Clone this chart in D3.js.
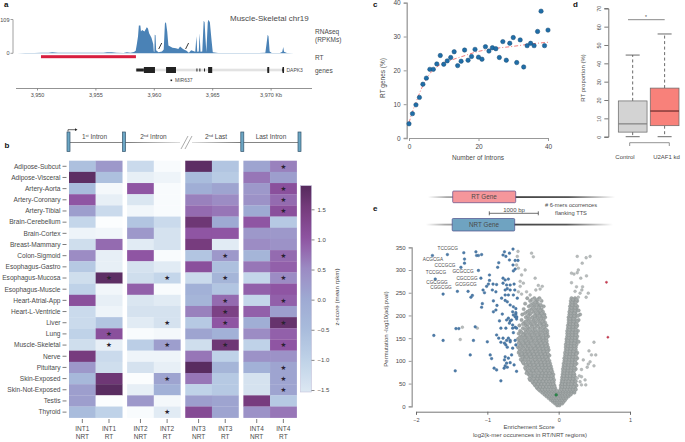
<!DOCTYPE html>
<html><head><meta charset="utf-8">
<script src="https://cdn.jsdelivr.net/npm/d3@7"></script>
<style>html,body{margin:0;padding:0;background:#fff}svg{display:block}text{font-family:"Liberation Sans",Arial,sans-serif;fill:#4a4a4a}</style>
</head><body><svg id="c" width="685" height="442"></svg>
<script>
// ---- panel a
const trackKb=[3948.3,3949,3949.8,3950.4,3951,3951.3,3951.8,3952.5,3953,3953.6,3954.2,3955,3955.7,3956,3956.4,3956.8,3957.4,3957.7,3958,3958.3,3958.45,3958.55,3958.65,3958.72,3958.85,3958.9,3959,3959.2,3959.4,3959.5,3959.6,3959.8,3959.95,3960,3960.05,3960.08,3960.15,3960.2,3960.4,3960.7,3960.85,3960.95,3961,3961.05,3961.15,3961.25,3961.6,3961.9,3962.1,3962.25,3962.5,3962.8,3963,3963.2,3963.55,3963.65,3963.72,3963.85,3963.92,3964,3964.15,3964.27,3964.35,3964.42,3964.5,3964.62,3964.68,3964.8,3964.95,3965.05,3965.5,3966,3967,3968,3969,3969.55,3969.65,3969.75,3969.82,3969.92,3970.1,3970.8,3971,3971.08,3971.15,3971.4,3972,3973];
const trackVal=[.5,1,1,1.5,2,3,2,1.5,2,1.5,1.5,1.5,2,3,3,1.5,1,3,2,4,8,30,55,90,90,70,75,70,84,80,65,50,30,6,4,60,58,10,3,6,12,95,100,98,70,25,18,16,14,22,14,8,2,10,5,55,5,6,65,5,6,105,100,50,4,100,108,100,40,3,1,1,1,1,1,2,30,60,55,6,1,1,5,20,5,1,.5,.5];
const kbTicks=[3950,3955,3960,3965,3970];
const rtRegion=[3950.34,3958.47];
const geneSpan=[3958.45,3971.2];
const exonThin=[[3958.5,3959.15],[3963.65,3963.7],[3963.9,3963.95],[3964.3,3964.36],[3969.75,3969.85],[3971.0,3971.1]];
const exonThick=[[3959.15,3960.1],[3961.05,3961.9],[3964.65,3965.0],[3969.72,3969.88],[3971.02,3971.12]];

// ---- panel b
const tissues=["Adipose-Subcut","Adipose-Visceral","Artery-Aorta","Artery-Coronary","Artery-Tibial","Brain-Cerebellum","Brain-Cortex","Breast-Mammary","Colon-Sigmoid","Esophagus-Gastro","Esophagus-Mucosa","Esophagus-Muscle","Heart-Atrial-App","Heart-L-Ventricle","Liver","Lung","Muscle-Skeletal","Nerve","Pituitary","Skin-Exposed","Skin-Not-Exposed","Testis","Thyroid"];
const introns=["INT1","INT2","INT3","INT4"];
const classes=["NRT","RT"];
const heat=[
[-.6,.3,-1.2,-1.95,1.8,-.7,.1,.6],
[1.8,-.6,-1.7,-1.8,-.5,-.85,.7,.2],
[-.5,-1.9,1,-1.95,-.1,.1,.3,1.1],
[1,-1.7,-1.5,-1.95,.6,.5,.4,.8],
[.2,-1.2,-1.85,-1.95,.8,.7,0,1.1],
[-1.1,-2,-.7,-1.2,1.6,0,1,-.8],
[-1.8,-1.85,.3,-1.4,1,1,.3,.3],
[-1.3,.8,-1.6,-1.4,1.5,-1.6,.5,.4],
[.5,-1.7,1,-1.95,-.7,.3,-.3,.8],
[-.8,-1.7,-1.4,-1.6,1.1,-.6,.7,.9],
[-1.3,1.8,-1.3,-1.1,-1.2,-.3,-1.1,.5],
[-1,-1.85,.9,-1.95,-.2,-.7,.9,1],
[1.1,-1.7,-1.5,-1.6,-.3,.8,-1.1,.9],
[-1.2,-1.8,-1.4,-1.4,.6,1.4,.9,.2],
[-1.2,-.7,-1.6,-1.4,-.8,1,-.1,1.7],
[-1,1.1,-1.95,-1.9,.1,-.2,.5,.9],
[-1.3,-1.7,-.9,.2,-1.3,1.6,-1,1],
[1.5,-1.2,-1.8,-1.8,.7,-1,.4,.4],
[.3,-1.3,-1.4,-1.7,1.85,-.3,-.2,.1],
[-.4,1.6,-2,.1,.7,-.8,-1.4,.1],
[.2,1.85,-1.7,-.2,-1,-.8,-1.4,.1],
[.2,-2,.3,-1.9,.2,.1,1.5,-.8],
[-.5,-1,-1.95,-1.6,1.2,.1,.4,.7]];
const starCells=[[0,7],[2,7],[3,7],[4,7],[8,5],[8,7],[10,1],[10,3],[10,5],[10,7],[12,5],[12,7],[13,5],[14,3],[14,5],[14,7],[15,1],[16,1],[16,3],[16,5],[16,7],[18,7],[19,3],[19,7],[20,7],[22,3]];
const heatStops=[-2,-1.5,-1,-.5,0,.5,1,1.5,1.9];
const heatColors=["#fbfdfe","#dae6f1","#bfd2e8","#a9bcdc","#9eaad3","#9c8cc4","#8f55a3","#773c7e","#552a5c"];
const cbarTicks=[-1.5,-1,-.5,0,.5,1,1.5];
const intronLabels=[["1","st"," Intron"],["2","nd"," Intron"],["2","nd"," Last"],["Last Intron","",""]];

// ---- panel c
const intronCount=d3.range(41);
const rtGenes=[4.2,7.2,9.8,12,15.9,17.7,20.3,20.3,21.9,24.4,21.8,22.8,23.8,25.5,21.4,22.7,26,23,24.1,26.2,23.9,23.3,27,25.7,26.7,26.4,23.8,28.5,23,28,29.7,22.3,29,21,27.3,28,27.3,31.5,37.5,27.3,31.9];
const trendX=[0,1,2,3,4,6,8,10,12,15,20,25,30,35,40];
const trendY=[4.5,7.8,10.5,13.2,15.5,19,21,22.3,23,24,25.6,26.5,27.1,27.8,28.3];

// ---- panel d
const boxNames=["Control","U2AF1 kd"];
const boxLow=[0,0],boxQ1=[2.5,6],boxMed=[7,14],boxQ3=[19.5,26.5],boxHigh=[44.5,56];
const boxFill=["#d3d3d3","#f8817a"],boxMedColor=["#808080","#6b2b2b"];

// ---- panel e
const volcBlue=[[-1.77,332],[-1.56,334],[-1.33,338],[-1.32,324],[-1.32,315],[-1.37,306],[-1.16,340],[-1.15,332],[-1.08,334],[-1.125,332],[-.84,316],[-.855,306],[-.76,340],[-.64,346],[-.78,333],[-.74,330],[-.69,337],[-.69,322],[-.61,321],[-.57,321],[-.64,311],[-.61,302],[-.635,298],[-1.125,299],[-1.09,282],[-.97,289],[-.97,277],[-1.73,280],[-1.62,247],[-1.42,253],[-1.27,253],[-1.21,244],[-1.23,240],[-1.06,256],[-1.04,250],[-1.01,264],[-.985,269],[-.92,269],[-.87,268],[-.93,256],[-.88,252],[-.78,282],[-.75,278],[-.705,280],[-.78,271],[-.73,267],[-.68,267],[-.625,269],[-.75,256],[-.72,259],[-.68,256],[-.615,256],[-.75,245],[-.705,245],[-.635,245],[-.58,238],[-.8,238],[-.75,233],[-.72,230],[-.915,232],[-.865,222],[-.88,212],[-.915,208],[-.79,203],[-1.07,226],[-1.08,218],[-.68,223],[-.635,219],[-.6,215],[-.645,208],[-.6,203],[-.59,197],[-.705,194],[-.59,192],[-.635,201],[-.6,206],[-.61,197],[-.59,196],[-.66,190],[-.68,188],[-.83,188],[-.73,190],[-.69,183],[-.645,179],[-.61,174],[-.59,172],[-1.17,175],[-1.44,171],[-1.4,171],[-.81,172],[-.74,172],[-.645,172],[-.635,162],[-.87,157],[-.84,150],[-1.75,156],[-.78,150],[-.705,150],[-1.62,145],[-1.195,145],[-1,142],[-.73,145],[-.68,145],[-.61,145],[-.81,141],[-.76,139],[-.74,135],[-.72,130],[-.68,142],[-.6,135],[-.645,128],[-1.24,113],[-.96,113],[-.94,105],[-.66,113],[-.75,109],[-.76,102],[-.705,106],[-.73,95],[-.75,89],[-.68,96],[-.625,91],[-.72,86],[-.765,84],[-.905,84],[-.87,80],[-.59,77],[-1.45,78],[-.81,56]];
const volcGreyOut=[[-.57,341],[-.58,330],[-.38,337],[-.355,329],[-.59,311],[-.565,304],[-.47,300],[-.33,282],[-.52,289],[-.54,275],[-.495,271],[-.54,264],[-.285,266],[-.23,264],[-.26,258],[-.32,256],[-.45,252],[-.565,252],[-.52,247],[-.4,245],[-.26,234],[-.355,234],[.26,330],[.33,315],[.385,327],[.44,330],[.275,300],[.26,294],[.18,293],[.215,291],[.39,287],[.31,282],[.18,272],[.335,263],[.325,256],[.415,249],[.385,240],[.25,263],[.23,253],[.3,249],[.275,240],[.495,141],[.425,122],[.52,113],[.46,113],[.345,102],[.44,98],[.415,93],[.495,89],[.4,86],[.32,81],[.29,67],[.32,65],[.26,62],[.37,58],[.3,54],[.32,47],[.38,47],[-1.35,174],[-1.14,172],[-1.38,147]];
const volcGreyRows=[
[2,-.02,.01],[6,-.05,-.02,.02,.05],[10,-.08,-.05,-.02,.01,.04,.07],[14,-.11,-.08,-.05,-.02,.02,.05,.09],
[18,-.14,-.1,-.07,-.03,0,.04,.07,.11],[22,-.17,-.13,-.09,-.06,-.02,.03,.06,.1,.14],[26,-.2,-.16,-.12,-.08,-.05,-.01,.02,.05,.09,.13,.17],
[30,-.23,-.18,-.14,-.1,-.06,-.03,.01,.03,.06,.1,.14,.18,.22],[34,-.26,-.21,-.17,-.13,-.09,-.05,-.02,.02,.06,.1,.14,.18,.22],
[40,-.3,-.25,-.2,-.16,-.12,-.08,-.05,.03,.06,.1,.14,.18,.23],[46,-.33,-.28,-.23,-.19,-.14,-.1,-.06,.03,.07,.11,.15,.2,.25],
[52,-.36,-.31,-.26,-.21,-.16,-.12,-.07,.04,.08,.12,.16,.21],[58,-.4,-.34,-.29,-.24,-.19,-.14,-.09,-.065,.045,.09,.13,.18,.22],
[64,-.38,-.32,-.27,-.22,-.17,-.12,-.08,.05,.09,.14,.18,.23],[70,-.42,-.36,-.3,-.25,-.2,-.15,-.1,-.075,.055,.1,.14,.19,.22],
[76,-.44,-.38,-.33,-.27,-.22,-.17,-.12,-.09,.06,.1,.15,.19],[82,-.46,-.4,-.35,-.3,-.24,-.19,-.14,-.1,.06,.11,.15,.2,.24],
[88,-.43,-.37,-.32,-.26,-.21,-.16,-.11,.07,.11,.16,.2],[94,-.49,-.44,-.38,-.33,-.27,-.22,-.17,-.12,.07,.12,.16,.21,.25],
[100,-.51,-.45,-.4,-.34,-.29,-.24,-.18,-.13,.08,.12,.17,.21],[106,-.48,-.42,-.36,-.31,-.25,-.2,-.15,.08,.13,.17,.22,.26],
[112,-.54,-.49,-.43,-.37,-.32,-.27,-.21,-.16,-.13,.09,.13,.18,.22],[118,-.56,-.5,-.45,-.39,-.33,-.28,-.22,-.17,.09,.14,.18,.23,.26],
[124,-.53,-.47,-.41,-.35,-.3,-.24,-.19,-.14,.1,.14,.19,.24],[130,-.57,-.5,-.43,-.37,-.31,-.25,-.2,-.15,.1,.15,.19,.24],
[136,-.52,-.46,-.4,-.33,-.27,-.21,-.16,.1,.15,.2,.25],[142,-.55,-.48,-.42,-.36,-.29,-.23,-.17,.11,.15,.2,.24,.28],
[148,-.57,-.5,-.44,-.37,-.3,-.24,-.18,.11,.16,.21,.25],[154,-.53,-.46,-.39,-.32,-.26,-.19,-.15,.12,.16,.21,.26],
[160,-.56,-.48,-.41,-.34,-.27,-.2,-.16,.12,.17,.22,.25],[166,-.54,-.44,-.36,-.29,-.22,-.16,.12,.17,.22,.27],
[172,-.5,-.42,-.34,-.26,-.2,.13,.18,.22],[178,-.55,-.46,-.38,-.31,-.23,-.17,.13,.17,.22,.26],
[184,-.48,-.4,-.33,-.25,-.19,.14,.18,.23],[190,-.52,-.43,-.35,-.28,-.21,.14,.19,.23,.28],
[196,-.46,-.37,-.3,-.24,-.19,.14,.18,.23],[202,-.51,-.41,-.32,-.26,-.2,.15,.2,.24,.3],
[208,-.44,-.35,-.28,-.22,.15,.19,.24],[214,-.49,-.38,-.31,-.24,.16,.2,.25],
[220,-.42,-.34,-.27,-.21,.16,.21,.26],[226,-.47,-.36,-.29,.17,.22],[232,-.4,-.31,-.24,.17,.21,.26],[238,-.44,-.34,-.27,.18,.23],
[37,-.28,-.23,-.19,-.15,-.11,-.07,.04,.08,.12,.16,.2,.24],[43,-.31,-.26,-.22,-.17,-.13,-.09,-.06,.05,.09,.13,.17,.21],
[49,-.34,-.29,-.24,-.2,-.15,-.11,-.08,.05,.09,.14,.18,.23],[55,-.37,-.32,-.27,-.22,-.17,-.13,-.09,.06,.1,.14,.19,.24],
[61,-.41,-.35,-.3,-.25,-.2,-.15,-.11,.07,.11,.16,.2],[67,-.4,-.34,-.29,-.24,-.19,-.14,-.1,.07,.12,.16,.21],
[73,-.45,-.39,-.35,-.28,-.23,-.18,-.13,.08,.12,.17,.21],[79,-.42,-.36,-.31,-.25,-.2,-.15,-.11,.08,.13,.17,.22],
[85,-.47,-.41,-.34,-.28,-.23,-.18,-.13,.09,.13,.18,.22],[91,-.46,-.4,-.35,-.29,-.24,-.19,-.14,.09,.14,.18,.23],
[97,-.5,-.42,-.36,-.31,-.25,-.2,-.15,.1,.14,.19,.23],[103,-.53,-.47,-.39,-.33,-.27,-.22,-.16,.1,.15,.19,.24],
[109,-.51,-.45,-.39,-.34,-.28,-.23,-.18,.11,.15,.2,.24],[115,-.52,-.47,-.41,-.35,-.3,-.25,-.19,-.15,.11,.16,.2,.25],
[121,-.55,-.48,-.43,-.37,-.32,-.26,-.21,-.16,.12,.16,.21],[127,-.55,-.49,-.44,-.39,-.33,-.27,-.22,-.17,.12,.17,.22],
[133,-.54,-.47,-.42,-.35,-.29,-.23,-.18,.13,.17,.22],[139,-.56,-.5,-.44,-.38,-.31,-.25,-.19,.13,.18,.22],
[145,-.53,-.46,-.39,-.33,-.27,-.21,-.17,.13,.18,.23],[151,-.55,-.48,-.41,-.35,-.28,-.22,-.17,.14,.19,.23],
[157,-.5,-.44,-.37,-.3,-.24,-.18,.14,.19,.24],[163,-.52,-.46,-.39,-.32,-.25,-.19,.14,.19,.24],
[169,-.47,-.4,-.33,-.25,-.18,.15,.2,.24],[175,-.44,-.37,-.29,-.21,.15,.2,.25],
[181,-.5,-.43,-.35,-.27,-.21,.16,.2,.25],[187,-.46,-.38,-.3,-.23,.16,.21,.26],
[193,-.41,-.33,-.25,.16,.21],[199,-.43,-.34,-.27,-.21,.17,.22,.27],
[205,-.47,-.39,-.3,-.24,.17,.22],[211,-.41,-.33,-.26,.18,.23,.28],
[217,-.36,-.28,.18,.23],[223,-.39,-.31,-.25,.19,.24],[229,-.33,.19,.24],[235,-.37,-.29,.2,.25]];
const volcRed=[[.67,273],[.69,152]];
const volcGreen=[[-.035,25]];
const kmerLabels=[["TCCGCG",447.7,250],["ACGCGA",433,261],["CCCGCG",445,267],["TCCGCG",436,274],["GCGCCG",463,273],["CGCCGG",467,280],["CGCGGG",437,284],["GCGGCG",466,286],["CGGCGG",441,289]];

const svg=d3.select("#c");
const defs=svg.append("defs");
function T(x,y,s,o={}){const t=svg.append("text").attr("x",x).attr("y",y).text(s)
 .attr("font-size",o.size||6.5).attr("text-anchor",o.anchor||"start");
 if(o.weight)t.attr("font-weight",o.weight); if(o.fill)t.style("fill",o.fill);
 if(o.rot!=null)t.attr("transform",`rotate(${o.rot} ${x} ${y})`); return t;}
function L(x1,y1,x2,y2,c,w,d){const l=svg.append("line").attr("x1",x1).attr("y1",y1).attr("x2",x2).attr("y2",y2).attr("stroke",c).attr("stroke-width",w||1);if(d)l.attr("stroke-dasharray",d);return l;}
function styleAxis(g,c,w,fs){g.selectAll("path.domain").attr("stroke",c).attr("stroke-width",w);g.selectAll(".tick line").attr("stroke",c).attr("stroke-width",w>1?1:w);g.selectAll("text").attr("font-size",fs).attr("font-family",'"Liberation Sans",Arial,sans-serif').style("fill","#4a4a4a");return g;}
[["a",4,7],["b",4.5,148],["c",373,7],["d",573,7],["e",373,211]].forEach(p=>T(p[1],p[2],p[0],{size:8,weight:"bold",fill:"#111"}));

// ===== panel a
const kb=d3.scaleLinear().domain([3950,3970]).range([37,270.6]);
const rp=d3.scaleLinear().domain([0,109]).range([53.3,19.5]);
svg.append("path").attr("d",d3.area().x((d,i)=>kb(trackKb[i])).y0(rp(0)).y1((d,i)=>rp(d))(trackVal)).attr("fill","#4a82b6");
L(13,rp(109),13,rp(0),"#888",.8);L(10.5,rp(109),13,rp(109),"#888",.8);L(10.5,rp(0),13,rp(0),"#888",.8);
T(9.5,rp(109)+2,"109",{size:5.5,anchor:"end"});T(9.5,rp(0)+2,"0",{size:5.5,anchor:"end"});
[[3960.55],[3962.85]].forEach(d=>L(kb(d[0])-1.5,49,kb(d[0])+1.5,43,"#222",.9));
T(230,21,"Muscle-Skeletal chr19",{size:8});
T(315,34,"RNAseq",{size:6.5});T(315,42,"(RPKMs)",{size:6.5});T(315,60,"RT",{size:6.5});T(315,72.5,"genes",{size:6.5});
svg.append("rect").attr("x",kb(rtRegion[0])).attr("width",kb(rtRegion[1])-kb(rtRegion[0])).attr("y",55.2).attr("height",3).attr("fill","#d81e3f");
svg.append("rect").attr("x",kb(geneSpan[0])).attr("width",kb(geneSpan[1])-kb(geneSpan[0])).attr("y",68.7).attr("height",2.6).attr("fill","#e2e2e2");
svg.selectAll(".thin").data(exonThin).join("rect").attr("x",d=>kb(d[0])).attr("width",d=>Math.max(1,kb(d[1])-kb(d[0]))).attr("y",68.5).attr("height",3).attr("fill","#222");
svg.selectAll(".thick").data(exonThick).join("rect").attr("x",d=>kb(d[0])).attr("width",d=>Math.max(1.5,kb(d[1])-kb(d[0]))).attr("y",67).attr("height",6).attr("fill","#222");
T(286.5,72,"DAPK3",{size:5});
svg.append("rect").attr("x",kb(3961.5)-.8).attr("y",79.5).attr("width",1.6).attr("height",1.6).attr("fill","#222");
T(175,82.3,"MIR637",{size:5});
const ga=svg.append("g").attr("transform","translate(0,88.5)").call(d3.axisBottom(kb).tickValues(kbTicks).tickSize(2).tickFormat(d=>d3.format(",")(d)+(d===3970?" Kb":"")));
ga.select("path.domain").attr("d","M16,0H312");
styleAxis(ga,"#777",.8,5.5);

// ===== panel b
const gx=d3.scaleBand().domain(introns).range([69,296.7]).paddingInner(.0826);
const cx=d3.scaleBand().domain(classes).range([0,gx.bandwidth()]);
const ry=d3.scaleBand().domain(tissues).range([160.7,417.7]);
const col=d3.scaleLinear().domain(heatStops).range(heatColors).clamp(true);
const colX=j=>gx(introns[Math.floor(j/2)])+cx(classes[j%2]);
heat.forEach((r,i)=>r.forEach((v,j)=>{
 svg.append("rect").attr("x",colX(j)).attr("y",ry(tissues[i])).attr("width",cx.bandwidth()+.2).attr("height",ry.bandwidth()+.2).attr("fill",col(v));
}));
starCells.forEach(([i,j])=>{svg.append("text").attr("x",colX(j)+cx.bandwidth()/2).attr("y",ry(tissues[i])+ry.bandwidth()/2+2.3).attr("text-anchor","middle").attr("font-size",6.5).style("font-family","DejaVu Sans").style("fill","#2a2230").text("★");});
tissues.forEach(t=>{const y=ry(t)+ry.bandwidth()/2;L(62.5,y,66.5,y,"#444",.7);T(60.5,y+2.3,t,{anchor:"end",size:6.6});});
introns.forEach((g,gi)=>classes.forEach(c=>{const x=gx(g)+cx(c)+cx.bandwidth()/2;L(x,419,x,423,"#444",.7);T(x,431,g,{anchor:"middle",size:6.5});T(x,439,c,{anchor:"middle",size:6.5});}));
// intron schematic
const fade=defs.append("linearGradient").attr("id","fadeR");fade.append("stop").attr("offset",0).attr("stop-color","#777");fade.append("stop").attr("offset",1).attr("stop-color","#ddd");
const fade2=defs.append("linearGradient").attr("id","fadeL");fade2.append("stop").attr("offset",0).attr("stop-color","#ddd");fade2.append("stop").attr("offset",1).attr("stop-color","#777");
L(69,142.5,125,142.5,"#777",.9);
svg.append("rect").attr("x",125).attr("y",142).attr("width",55).attr("height",1).attr("fill","url(#fadeR)");
svg.append("rect").attr("x",192).attr("y",142).attr("width",50).attr("height",1).attr("fill","url(#fadeL)");
L(242,142.5,300,142.5,"#777",.9);
L(181,149,188,136,"#888",.7);L(185,149,192,136,"#888",.7);
[67,122.5,240.8,298].forEach(x=>svg.append("rect").attr("x",x).attr("y",132).attr("width",3).attr("height",19.5).attr("fill","#6ba6c4").attr("stroke","#34536b").attr("stroke-width",.7));
svg.append("path").attr("d","M68,131.5V129.7H75").attr("fill","none").attr("stroke","#222").attr("stroke-width",.7);
svg.append("path").attr("d","M75,128.3L77.5,129.7L75,131.1Z").attr("fill","#222");
[[94.5],[153.5],[216],[271]].forEach((d,i)=>{const il=intronLabels[i];const t=svg.append("text").attr("x",d[0]).attr("y",139).attr("text-anchor","middle").attr("font-size",6.5);
 t.append("tspan").text(il[0]);if(il[1]){t.append("tspan").text(il[1]).attr("font-size",4).attr("dy",-2);t.append("tspan").text(il[2]).attr("dy",2);}});
// colorbar
const cby=d3.scaleLinear().domain([-1.5,1.5]).range([390,209.3]);
const cbg=defs.append("linearGradient").attr("id","cb").attr("x1",0).attr("x2",0).attr("y1",1).attr("y2",0);
const cbLo=cby.invert(392),cbHi=cby.invert(185.7);
d3.range(0,21).forEach(i=>{const v=cbLo+(cbHi-cbLo)*i/20;cbg.append("stop").attr("offset",i/20).attr("stop-color",col(v));});
svg.append("rect").attr("x",300.5).attr("y",185.7).attr("width",11).attr("height",206.3).attr("fill","url(#cb)").attr("stroke","#bdb9d6").attr("stroke-width",.5);
const gcb=svg.append("g").attr("transform","translate(311.5,0)").call(d3.axisRight(cby).tickValues(cbarTicks).tickSize(3).tickFormat(d3.format(".1f")));
gcb.select("path.domain").remove();styleAxis(gcb,"#555",.7,6);
gcb.selectAll("text").text(d=>(d<0?"\u2212":"")+Math.abs(d).toFixed(1));
T(339,297,"z-score (mean rpkm)",{size:6.2,anchor:"middle",rot:-90});

// ===== panel c
const cX=d3.scaleLinear().domain([0,40]).range([409,548]);
const cY=d3.scaleLinear().domain([0,40]).range([138,2.7]);
const gcx=svg.append("g").attr("transform","translate(0,138)").call(d3.axisBottom(cX).tickValues([0,20,40]).tickSize(3));
styleAxis(gcx,"#999",1,6.5);
const gcy=svg.append("g").attr("transform","translate(406.7,0)").call(d3.axisLeft(cY).tickValues([0,10,20,30,40]).tickSize(3));
styleAxis(gcy,"#999",1.3,6.5);
svg.append("path").attr("d",d3.line().x((d,i)=>cX(trendX[i])).y(d=>cY(d)).curve(d3.curveMonotoneX)(trendY)).attr("fill","none").attr("stroke","#ee6c6c").attr("stroke-width",.9).attr("stroke-dasharray","4 2 1 2");
svg.selectAll(".pc").data(rtGenes).join("circle").attr("cx",(d,i)=>cX(intronCount[i])).attr("cy",d=>cY(d)).attr("r",2.2).attr("fill","#1f6ea8").attr("stroke","#1d4d75").attr("stroke-width",.5);
T(478,160,"Number of Introns",{size:6.5,anchor:"middle"});
T(385,78,"RT genes (%)",{size:6.5,anchor:"middle",rot:-90});

// ===== panel d
const dY=d3.scaleLinear().domain([0,70]).range([136.7,8.3]);
const dX=d3.scaleBand().domain(boxNames).range([618.3,679]).paddingInner(.1);
const gdy=svg.append("g").attr("transform","translate(608.3,0)").call(d3.axisLeft(dY).tickValues(d3.range(0,71,10)).tickSize(4));
styleAxis(gdy,"#555",.8,5.5);
gdy.selectAll("text").attr("transform","rotate(-90)").attr("x",0).attr("y",-7).attr("text-anchor","middle").attr("dy",0);
boxNames.forEach((n,i)=>{const x0=dX(n),w=dX.bandwidth(),c=x0+w/2;
 L(c,dY(boxQ3[i]),c,dY(boxHigh[i]),"#444",.8,"3 2.5");L(c,dY(boxQ1[i]),c,dY(boxLow[i]),"#444",.8,"3 2.5");
 L(c-7,dY(boxHigh[i]),c+7,dY(boxHigh[i]),"#444",.8);L(c-7,dY(boxLow[i]),c+7,dY(boxLow[i]),"#444",.8);
 svg.append("rect").attr("x",x0).attr("y",dY(boxQ3[i])).attr("width",w).attr("height",dY(boxQ1[i])-dY(boxQ3[i])).attr("fill",boxFill[i]).attr("stroke","#666").attr("stroke-width",.7);
 L(x0,dY(boxMed[i]),x0+w,dY(boxMed[i]),boxMedColor[i],1.2);
});
svg.append("path").attr("d","M629.7,146V142.7H669.3V146").attr("fill","none").attr("stroke","#777").attr("stroke-width",.8);
T(625,159,boxNames[0],{size:6,anchor:"middle"});T(666.5,159,boxNames[1],{size:6,anchor:"middle"});
L(628,19.7,664.7,19.7,"#888",1);T(646,18.7,"*",{size:5,anchor:"middle"});
T(585,78,"RT proportion (%)",{size:6,anchor:"middle",rot:-90});

// ===== panel e
const fadeG=(id,mid)=>{const g=defs.append("linearGradient").attr("id",id);[[0,"#fff"],[.1,"#aaa"],[mid,"#444"],[.75,"#555"],[1,"#fff"]].forEach(s=>g.append("stop").attr("offset",s[0]).attr("stop-color",s[1]));};
fadeG("geneLine",.45);
svg.append("rect").attr("x",428).attr("y",196.2).attr("width",187).attr("height",1.8).attr("fill","url(#geneLine)");
svg.append("rect").attr("x",426).attr("y",223.7).attr("width",187).attr("height",1.8).attr("fill","url(#geneLine)");
svg.append("rect").attr("x",452.7).attr("y",191).attr("width",63).attr("height",11.7).attr("rx",1).attr("fill","#f5969b").attr("stroke","#5d4b86").attr("stroke-width",.7);
svg.append("rect").attr("x",452.2).attr("y",218.5).attr("width",62.5).attr("height",12.5).attr("rx",1).attr("fill","#6fa3c1").attr("stroke","#4d4f8a").attr("stroke-width",.7);
T(484,199.3,"RT Gene",{size:6.3,anchor:"middle"});T(484,227,"NRT Gene",{size:6.3,anchor:"middle"});
svg.append("path").attr("d","M489.3,211.3V215.3M489.3,213.3H538.3M538.3,211.3V215.3").attr("fill","none").attr("stroke","#333").attr("stroke-width",.7);
T(514,211.5,"1000 bp",{size:6,anchor:"middle"});
T(571,206.5,"# 6-mers ocorrences",{size:5.7,anchor:"middle"});T(571,214.5,"flanking TTS",{size:5.7,anchor:"middle"});
const eX=d3.scaleLinear().domain([-2,1]).range([416,630]);
const eY=d3.scaleLinear().domain([0,350]).range([406.3,247.3]);
const gex=svg.append("g").attr("transform","translate(0,411.7)").call(d3.axisBottom(eX).tickValues([-2,-1,0,1]).tickSize(3).tickFormat(d=>(d<0?"\u2212":"")+Math.abs(d)));
styleAxis(gex,"#666",.9,5.5);
const gey=svg.append("g").attr("transform","translate(411.7,0)").call(d3.axisLeft(eY).tickValues(d3.range(0,351,50)).tickSize(3));
styleAxis(gey,"#999",1.3,6);
const greyPts=[];volcGreyRows.forEach(r=>r.slice(1).forEach(x=>greyPts.push([x,r[0]])));
const dot=(data,fill,stroke,r)=>svg.append("g").selectAll("circle").data(data).join("circle").attr("cx",d=>eX(d[0])).attr("cy",d=>eY(d[1])).attr("r",r).attr("fill",fill).attr("stroke",stroke).attr("stroke-width",.4);
dot(greyPts,"#a3a8a8","#868d8d",1.7);
dot(volcGreyOut,"#b8bcbc","#9fa4a4",1.4);
dot(volcBlue,"#4c7ba8","#3f6b95",1.35);
dot(volcRed,"#d03a50","#a83044",1.1);
dot(volcGreen,"#2c8a4b","#1f6b39",1.4);
kmerLabels.forEach(k=>T(k[1],k[2],k[0],{size:4.7,anchor:"middle"}));
T(529,429,"Enrichement Score",{size:6,anchor:"middle"});
T(530,437,"log2(k-mer occurences in RT/NRT regions)",{size:6,anchor:"middle"});
T(388,329,"Permutation -log10(adj.pval)",{size:6,anchor:"middle",rot:-90});
</script></body></html>
